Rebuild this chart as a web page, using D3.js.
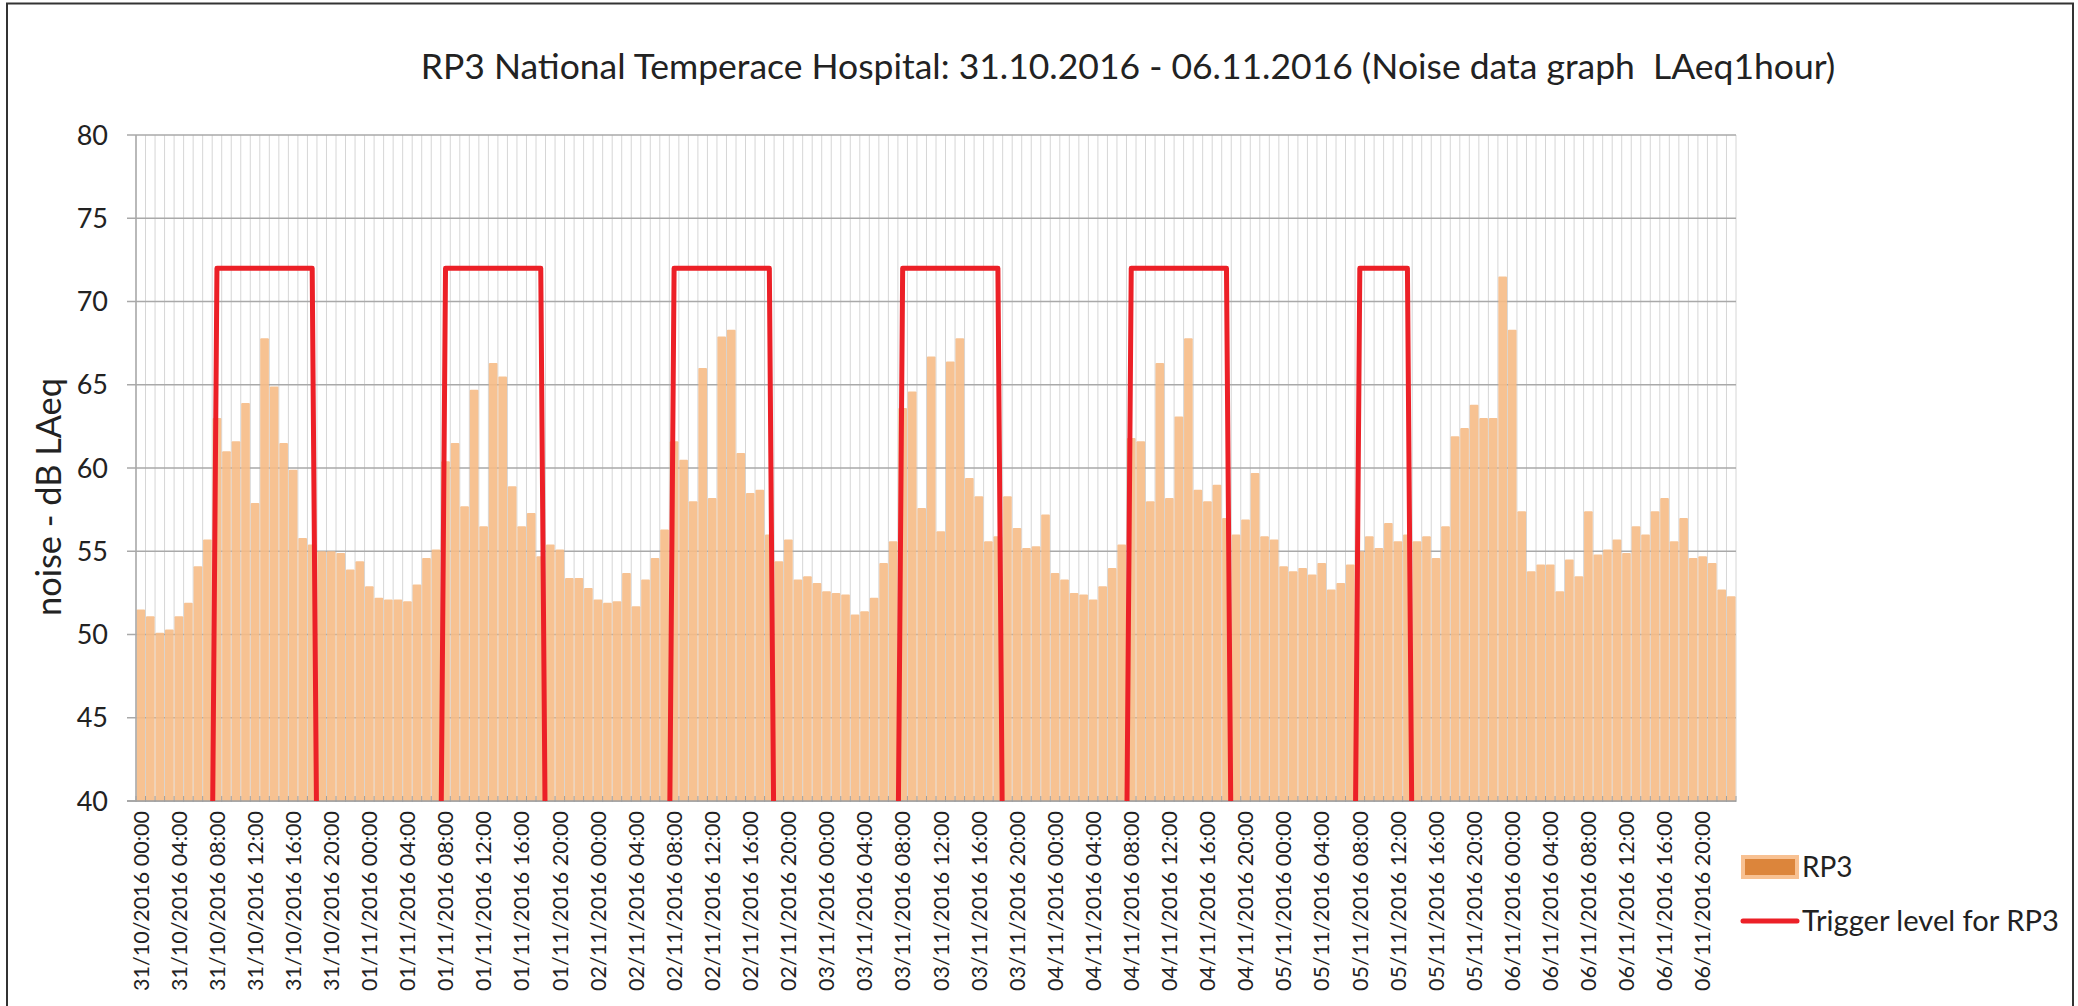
<!DOCTYPE html>
<meta charset="utf-8">
<html>
<head>
  <title>RP3 noise</title>
</head>
<style>
body { margin: 0; background: #fff; }
text { font-family: Lato, "Open Sans", sans-serif; fill: #222; }
.grid-h { stroke: #a9a9a9; stroke-width: 1.5; }
.grid-v { stroke: #d6d6d6; stroke-width: 1; }
.trigger { fill: none; stroke: #ec2027; stroke-width: 5; stroke-linejoin: round; }
</style>
<body>
<svg id="chart" width="2078" height="1006"></svg>

<script src="https://d3js.org/d3.v7.min.js"></script>
<script>

// categories: one bar per hour, 31/10/2016 00:00 .. 06/11/2016 23:00
var days = ["31/10/2016", "01/11/2016", "02/11/2016", "03/11/2016",
            "04/11/2016", "05/11/2016", "06/11/2016"];
var hours = d3.range(24).map(function(h) { return (h < 10 ? "0" : "") + h + ":00"; });

// RP3 LAeq1hour (one row per day)
var rp3 = [
  51.5,51.1,50.1,50.3,51.1,51.9,54.1,55.7,63.0,61.0,61.6,63.9,57.9,67.8,64.9,61.5,59.9,55.8,55.4,55.0,55.0,54.9,53.9,54.4,
  52.9,52.2,52.1,52.1,52.0,53.0,54.6,55.1,60.4,61.5,57.7,64.7,56.5,66.3,65.5,58.9,56.5,57.3,54.7,55.4,55.1,53.4,53.4,52.8,
  52.1,51.9,52.0,53.7,51.7,53.3,54.6,56.3,61.6,60.5,58.0,66.0,58.2,67.9,68.3,60.9,58.5,58.7,56.0,54.4,55.7,53.3,53.5,53.1,
  52.6,52.5,52.4,51.2,51.4,52.2,54.3,55.6,63.6,64.6,57.6,66.7,56.2,66.4,67.8,59.4,58.3,55.6,55.9,58.3,56.4,55.2,55.3,57.2,
  53.7,53.3,52.5,52.4,52.1,52.9,54.0,55.4,61.8,61.6,58.0,66.3,58.2,63.1,67.8,58.7,58.0,59.0,57.0,56.0,56.9,59.7,55.9,55.7,
  54.1,53.8,54.0,53.6,54.3,52.7,53.1,54.2,55.0,55.9,55.2,56.7,55.6,56.0,55.6,55.9,54.6,56.5,61.9,62.4,63.8,63.0,63.0,71.5,
  68.3,57.4,53.8,54.2,54.2,52.6,54.5,53.5,57.4,54.8,55.1,55.7,54.9,56.5,56.0,57.4,58.2,55.6,57.0,54.6,54.7,54.3,52.7,52.3
];

// trigger level for RP3 (0 outside working hours)
var trigger = [
  0,0,0,0,0,0,0,0,72,72,72,72,72,72,72,72,72,72,72,0,0,0,0,0,
  0,0,0,0,0,0,0,0,72,72,72,72,72,72,72,72,72,72,72,0,0,0,0,0,
  0,0,0,0,0,0,0,0,72,72,72,72,72,72,72,72,72,72,72,0,0,0,0,0,
  0,0,0,0,0,0,0,0,72,72,72,72,72,72,72,72,72,72,72,0,0,0,0,0,
  0,0,0,0,0,0,0,0,72,72,72,72,72,72,72,72,72,72,72,0,0,0,0,0,
  0,0,0,0,0,0,0,0,72,72,72,72,72,72,0,0,0,0,0,0,0,0,0,0,
  0,0,0,0,0,0,0,0,0,0,0,0,0,0,0,0,0,0,0,0,0,0,0,0
];

var yTicks = [40, 45, 50, 55, 60, 65, 70, 75, 80];

var categories = [];
days.forEach(function(d) {
  hours.forEach(function(h) { categories.push(d + " " + h); });
});

var data = categories.map(function(c, i) {
  return {cat: c, noise: rp3[i], trig: trigger[i]};
});

// plot area
var plotLeft = 136, plotRight = 1736, plotTop = 135, plotBottom = 801;

var svg = d3.select("#chart");

// outer frame
svg.append("rect")
  .attr("x", 7).attr("y", 3.5)
  .attr("width", 2066).attr("height", 1010)
  .style("fill", "none").style("stroke", "#333").style("stroke-width", 2);

var x = d3.scaleBand()
  .domain(categories)
  .range([plotLeft, plotRight])
  .paddingInner(0.09)
  .paddingOuter(0.045);

var y = d3.scaleLinear()
  .domain([40, 80])
  .range([plotBottom, plotTop]);

var step = x.step();

// vertical gridlines at category edges
svg.append("g")
  .selectAll("line")
  .data(d3.range(categories.length + 1))
  .enter()
  .append("line")
    .attr("class", "grid-v")
    .attr("x1", function(k) { return plotLeft + k * step; })
    .attr("x2", function(k) { return plotLeft + k * step; })
    .attr("y1", plotTop).attr("y2", plotBottom);

// horizontal gridlines (with short ticks to the left)
svg.append("g")
  .selectAll("line")
  .data(yTicks)
  .enter()
  .append("line")
    .attr("class", "grid-h")
    .attr("x1", plotLeft - 9).attr("x2", plotRight)
    .attr("y1", function(d) { return y(d); })
    .attr("y2", function(d) { return y(d); });

// bars
svg.append("g")
  .selectAll("rect")
  .data(data)
  .enter()
  .append("rect")
    .attr("x", function(d) { return x(d.cat); })
    .attr("y", function(d) { return y(d.noise); })
    .attr("width", x.bandwidth())
    .attr("height", function(d) { return y(40) - y(d.noise); })
    .attr("rx", 1)
    .style("fill", "#f6bb86")
    .style("fill-opacity", 0.9);

// x axis line and small ticks
svg.append("line")
  .attr("x1", plotLeft - 9).attr("x2", plotRight)
  .attr("y1", plotBottom).attr("y2", plotBottom)
  .style("stroke", "#a0a0a0").style("stroke-width", 1.5);
svg.append("line")
  .attr("x1", plotLeft).attr("x2", plotLeft)
  .attr("y1", plotTop).attr("y2", plotBottom)
  .style("stroke", "#a9a9a9").style("stroke-width", 1.5);
svg.append("g")
  .selectAll("line")
  .data(d3.range(categories.length + 1))
  .enter()
  .append("line")
    .attr("x1", function(k) { return plotLeft + k * step; })
    .attr("x2", function(k) { return plotLeft + k * step; })
    .attr("y1", plotBottom - 5).attr("y2", plotBottom + 1)
    .style("stroke", "#a0a0a0");

// trigger line, clipped to the plot like excel does
svg.append("clipPath").attr("id", "plotclip")
  .append("rect")
    .attr("x", plotLeft).attr("y", plotTop - 10)
    .attr("width", plotRight - plotLeft).attr("height", plotBottom - plotTop + 10);

var line = d3.line()
  .x(function(d) { return x(d.cat) + x.bandwidth() / 2; })
  .y(function(d) { return y(d.trig); });

svg.append("path")
  .datum(data)
  .attr("class", "trigger")
  .attr("clip-path", "url(#plotclip)")
  .attr("d", line);

// y tick labels
svg.append("g")
  .selectAll("text")
  .data(yTicks)
  .enter()
  .append("text")
    .attr("x", 108)
    .attr("y", function(d) { return y(d); })
    .attr("dy", "0.36em")
    .style("text-anchor", "end")
    .style("font-size", "27px")
    .text(function(d) { return d; });

// x tick labels every 4 hours
svg.append("g")
  .selectAll("text")
  .data(categories.filter(function(c, i) { return i % 4 == 0; }))
  .enter()
  .append("text")
    .attr("transform", function(d) {
      return "translate(" + (x(d) + x.bandwidth() / 2) + "," + 811 + ") rotate(-90)";
    })
    .attr("dy", "0.36em")
    .style("text-anchor", "end")
    .style("font-size", "21.5px")
    .text(function(d) { return d; });

// scale a text so it spans a given width
function fit(sel, w) {
  var size = parseFloat(sel.style("font-size"));
  var len = sel.node().getComputedTextLength();
  sel.style("font-size", (size * w / len) + "px");
}

var title = svg.append("text")
  .attr("x", 1128).attr("y", 79)
  .style("text-anchor", "middle")
  .style("font-size", "36px")
  .style("white-space", "pre")
  .text("RP3 National Temperace Hospital: 31.10.2016 - 06.11.2016 (Noise data graph  LAeq1hour)");
fit(title, 1415);

var ytitle = svg.append("text")
  .attr("transform", "translate(49,497) rotate(-90)")
  .attr("dy", "0.36em")
  .style("text-anchor", "middle")
  .style("font-size", "30px")
  .text("noise - dB LAeq");
fit(ytitle, 238);

// legend
svg.append("rect")
  .attr("x", 1743).attr("y", 857)
  .attr("width", 54).attr("height", 20)
  .style("fill", "#dc853b")
  .style("stroke", "#f8c192").style("stroke-width", 4);
svg.append("text")
  .attr("x", 1802).attr("y", 867)
  .attr("dy", "0.36em")
  .style("font-size", "28px")
  .text("RP3");

svg.append("line")
  .attr("x1", 1743).attr("x2", 1797)
  .attr("y1", 921).attr("y2", 921)
  .style("stroke", "#ec2027").style("stroke-width", 5)
  .style("stroke-linecap", "round");
var legTrig = svg.append("text")
  .attr("x", 1802).attr("y", 921)
  .attr("dy", "0.36em")
  .style("font-size", "27px")
  .text("Trigger level for RP3");
fit(legTrig, 257);

</script>
</body>
</html>
